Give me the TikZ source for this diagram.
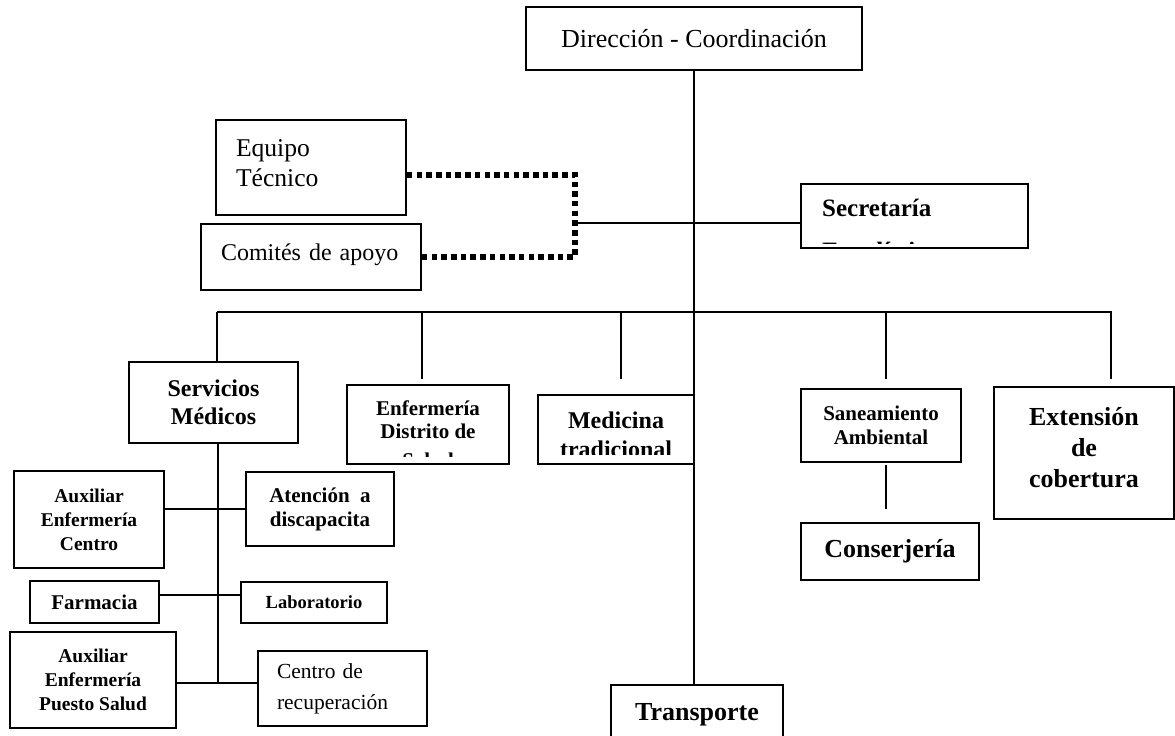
\documentclass[tikz,border=0pt]{standalone}
\usepackage{fontspec}
\setmainfont{Liberation Serif}
\usetikzlibrary{calc}
\newcommand\setfs[2]{\fontsize{#1}{#2}\selectfont}
\begin{document}
\begin{tikzpicture}[x=1pt,y=-1pt,
  box/.style={draw, line width=1.8pt, inner sep=0pt, align=center},
  ln/.style={line width=1.8pt},
  mainln/.style={line width=2.4pt},
  dots/.style={line width=5.5pt, dash pattern=on 5.5pt off 4.2pt}]
\useasboundingbox (0,0) rectangle (1175,736);

% top
\node[box, minimum width=336pt, minimum height=63pt, font=\setfs{26}{30}] (dir) at (694,38.5) {Dirección - Coordinación};

\node[box, minimum width=190pt, minimum height=95pt, text width=150pt, align=left, text depth=38pt, font=\setfs{25.6}{30}] (equipo) at (311,167.5) {Equipo\\Técnico};
\node[box, minimum width=220pt, minimum height=66pt, text width=180pt, align=left, text depth=9pt, font=\setfs{24}{28}] (comites) at (311,257) {Comités de apoyo};

% Secretaria (clipped text)
\node[box, minimum width=227pt, minimum height=64pt] (sec) at (914.5,216) {};
\begin{scope}
  \clip ($(sec.north west)+(0,0)$) rectangle ($(sec.south east)+(0,-5)$);
  \node[anchor=base west, inner sep=0pt, font=\bfseries\setfs{25}{30}] (secA) at (822,216) {Secretaría};
  \node[anchor=base west, inner sep=0pt, font=\bfseries\setfs{25}{30}] (secB) at (822,259) {Estadística};
\end{scope}

% second level
\node[box, minimum width=169pt, minimum height=81pt, font=\bfseries\setfs{24}{28}] (serv) at (213.5,402.5) {Servicios\\Médicos};

\node[box, minimum width=162pt, minimum height=79pt] (enf) at (428,424.5) {};
\begin{scope}
  \clip (enf.north west) rectangle ($(enf.south east)+(0,-8)$);
  \node[anchor=base, inner sep=0pt, font=\bfseries\setfs{21}{24}] (enfA) at (428,415) {Enfermería};
  \node[anchor=base, inner sep=0pt, font=\bfseries\setfs{21}{24}] (enfB) at (428,438) {Distrito de};
  \node[anchor=base, inner sep=0pt, font=\bfseries\setfs{21}{24}] (enfC) at (428,467) {Salud};
\end{scope}

\node[box, minimum width=156pt, minimum height=69pt] (med) at (616,429.5) {};
\begin{scope}
  \clip (med.north west) rectangle ($(med.south east)+(0,-10)$);
  \node[anchor=base, inner sep=0pt, font=\bfseries\setfs{24}{28}] (medA) at (616,428) {Medicina};
  \node[anchor=base, inner sep=0pt, font=\bfseries\setfs{24}{28}] (medB) at (616,457) {tradicional};
\end{scope}

\node[box, minimum width=160pt, minimum height=73pt, font=\bfseries\setfs{21}{24}] (san) at (881,425.5) {Saneamiento\\Ambiental};
\node[box, minimum width=180pt, minimum height=132pt, text width=170pt, text depth=74pt, font=\bfseries\setfs{26}{31}] (ext) at (1084,453) {Extensión\\de\\cobertura};
\node[box, minimum width=178pt, minimum height=57pt, font=\bfseries\setfs{26}{30}] (cons) at (890,551.5) {Conserjería};
\node[box, minimum width=172pt, minimum height=60pt, font=\bfseries\setfs{26}{30}] (trans) at (697,715) {Transporte};

% medical services group
\node[box, minimum width=150pt, minimum height=97pt, font=\bfseries\setfs{19.5}{24}] (aux1) at (89,519.5) {Auxiliar\\Enfermería\\Centro};
\node[box, minimum width=148pt, minimum height=74pt, font=\bfseries\setfs{21}{24}] (aten) at (320,509) {Atención~~a\\discapacita};
\node[box, minimum width=129pt, minimum height=42pt, font=\bfseries\setfs{21}{24}] (farm) at (94.5,602) {Farmacia};
\node[box, minimum width=146pt, minimum height=41pt, font=\bfseries\setfs{18.5}{22}] (lab) at (314,602.5) {Laboratorio};
\node[box, minimum width=166pt, minimum height=96pt, font=\bfseries\setfs{19.5}{24}] (aux2) at (93,680) {Auxiliar\\Enfermería\\Puesto Salud};
\node[box, minimum width=169pt, minimum height=75pt, text width=131pt, align=left, font=\setfs{21.5}{31}] (cen) at (342.5,688.5) {Centro de\\recuperación};

% connectors
\draw[mainln] (dir.south) -- (dir.south |- trans.north);

\coordinate (dT) at (575,175);
\coordinate (dM) at (575,223);
\coordinate (dB) at (575,257);
\draw[dots] (equipo.east |- dT) -- (dT) -- (dB) -- (comites.east |- dB);
\draw[ln] (dM) -- (sec.west |- dM);

\coordinate (busL) at (217,312);
\coordinate (busR) at (1112,312);
\coordinate (bE) at (422,312);
\coordinate (bM) at (621,312);
\coordinate (bS) at (886,312);
\coordinate (bX) at (1111,312);
\draw[ln] (busL) -- (busR);
\draw[ln] (busL) -- (busL |- serv.north);
\draw[ln] (bE) -- ([yshift=5pt]bE |- enf.north);
\draw[ln] (bM) -- ([yshift=15pt]bM |- med.north);
\draw[ln] (bS) -- ([yshift=9pt]bS |- san.north);
\draw[ln] (bX) -- ([yshift=7pt]bX |- ext.north);

\draw[ln] ($(san.south)+(5,2)$) -- ($(cons.north)+(-4,-13)$);

\coordinate (lv) at (218,683);
\coordinate (lf) at (218,595);
\draw[ln] ($(serv.south)+(4.5,0)$) -- (lv);
\draw[ln] (aux1.east |- aten.west) -- (aten.west);
\draw[ln] (farm.east |- lf) -- (lab.west |- lf);
\draw[ln] (aux2.east |- lv) -- (cen.west |- lv);
\end{tikzpicture}
\end{document}
